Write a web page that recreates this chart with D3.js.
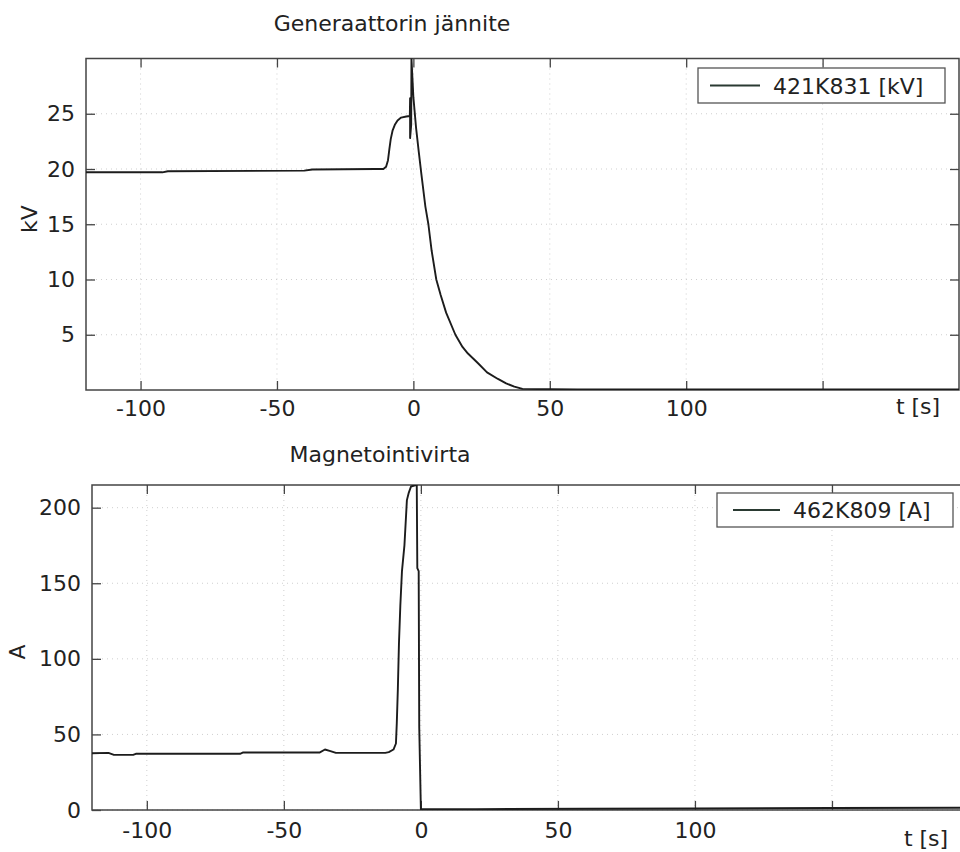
<!DOCTYPE html>
<html>
<head>
<meta charset="utf-8">
<script src="https://cdn.jsdelivr.net/npm/d3@7/dist/d3.min.js"></script>
<style>
  html, body { margin: 0; padding: 0; background: #fff; }
  svg { display: block; }
  text { font-family: "DejaVu Sans", "Liberation Sans", sans-serif; fill: #222; }
</style>
</head>
<body>
<svg id="chart" width="960" height="852"></svg>
<script>
// ---------------- data ----------------
const xTicks = [-100, -50, 0, 50, 100, 150];
const xTickLabels = ["-100", "-50", "0", "50", "100", ""];
const kvTicks = [5, 10, 15, 20, 25];
const ampTicks = [0, 50, 100, 150, 200];

const titleTop = "Generaattorin jännite";
const titleBottom = "Magnetointivirta";
const legendTop = "421K831 [kV]";
const legendBottom = "462K809 [A]";
const yLabelTop = "kV";
const yLabelBottom = "A";
const xLabel = "t [s]";

// generator voltage [kV]
const kvTime = [-120, -92, -90, -40, -37, -14, -11, -10, -9.3, -8.8, -8.3, -7.6, -6.8, -5.8, -4.5, -2.6, -1.3, -1.2, -1.2, -0.8, -0.7, 0, 1, 2, 2.9, 4.4, 5.5, 6.7, 8.4, 10, 12, 15.4, 18, 20, 23.8, 27, 31, 34, 37, 40, 60, 100, 150, 200];
const kvValues = [19.7, 19.7, 19.8, 19.85, 19.95, 20.0, 20.0, 20.2, 20.8, 21.8, 22.7, 23.5, 24.0, 24.4, 24.65, 24.75, 24.8, 26.4, 22.8, 24.0, 30.0, 26.5, 23.7, 21.5, 19.6, 16.6, 15.0, 12.6, 10.0, 8.6, 7.0, 5.0, 3.9, 3.3, 2.4, 1.6, 1.0, 0.6, 0.3, 0.1, 0.05, 0.05, 0.05, 0.05];

// field current [A]
const ampTime = [-120, -114, -112, -105, -104, -66, -65, -37, -35, -33, -31, -13, -11.7, -10, -9.1, -8.8, -8.4, -8.0, -7.5, -6.9, -6.0, -5.1, -4.4, -3.6, -1.8, -1.5, -1.3, -0.8, -0.6, 0, 20, 60, 100, 150, 200];
const ampValues = [37.5, 37.8, 36.5, 36.5, 37.2, 37.2, 38.0, 38.0, 40.0, 39.0, 37.8, 37.8, 38.3, 40.0, 44.0, 57.0, 80.0, 110.0, 135.0, 158.0, 175.0, 205.0, 210.0, 214.0, 215.0, 215.0, 160.0, 158.0, 55.0, 0.5, 0.6, 0.8, 1.0, 1.3, 1.5];

// ---------------- drawing ----------------
const svg = d3.select("#chart");

function panel(cfg) {
  const g = svg.append("g");
  const x = d3.scaleLinear().domain([-120, 200]).range([cfg.left, cfg.right]);
  const y = d3.scaleLinear().domain(cfg.yDomain).range([cfg.bottom, cfg.top]);
  const clipId = "clip" + cfg.id;
  svg.append("clipPath").attr("id", clipId)
    .append("rect")
    .attr("x", cfg.left).attr("y", cfg.top)
    .attr("width", cfg.right - cfg.left).attr("height", cfg.bottom - cfg.top);

  // grid
  g.append("g").selectAll("line").data(xTicks).join("line")
    .attr("x1", d => x(d)).attr("x2", d => x(d))
    .attr("y1", cfg.top).attr("y2", cfg.bottom)
    .attr("stroke", "#cfcfcf").attr("stroke-width", 1).attr("stroke-dasharray", "1,4");
  g.append("g").selectAll("line").data(cfg.yTicks).join("line")
    .attr("x1", cfg.left).attr("x2", cfg.right)
    .attr("y1", d => y(d)).attr("y2", d => y(d))
    .attr("stroke", "#cfcfcf").attr("stroke-width", 1).attr("stroke-dasharray", "1,4");

  // axes (inward ticks)
  const fmtX = (d, i) => xTickLabels[i];
  const ax = g.append("g").attr("transform", `translate(0,${cfg.bottom})`)
    .call(d3.axisBottom(x).tickValues(xTicks).tickFormat(fmtX).tickSizeInner(-9).tickSizeOuter(0).tickPadding(cfg.xPad));
  const at = g.append("g").attr("transform", `translate(0,${cfg.top})`)
    .call(d3.axisTop(x).tickValues(xTicks).tickFormat(() => "").tickSizeInner(-9).tickSizeOuter(0));
  const ay = g.append("g").attr("transform", `translate(${cfg.left},0)`)
    .call(d3.axisLeft(y).tickValues(cfg.yTicks).tickFormat(d3.format("d")).tickSizeInner(-9).tickSizeOuter(0).tickPadding(11));
  const ar = g.append("g").attr("transform", `translate(${cfg.right},0)`)
    .call(d3.axisRight(y).tickValues(cfg.yTicks).tickFormat(() => "").tickSizeInner(-9).tickSizeOuter(0));
  [ax, at, ay, ar].forEach(a => {
    a.select(".domain").remove();
    a.selectAll(".tick line").attr("stroke", "#444").attr("stroke-width", 1.3);
    a.selectAll(".tick text").attr("font-size", 22).attr("fill", "#222")
      .attr("font-family", '"DejaVu Sans", "Liberation Sans", sans-serif');
  });

  // frame
  g.append("rect")
    .attr("x", cfg.left).attr("y", cfg.top)
    .attr("width", cfg.right - cfg.left).attr("height", cfg.bottom - cfg.top)
    .attr("fill", "none").attr("stroke", "#444").attr("stroke-width", 1.5);

  // series
  const pts = cfg.t.map((t, i) => [t, cfg.v[i]]);
  const line = d3.line().x(d => x(d[0])).y(d => y(d[1]));
  g.append("path").datum(pts)
    .attr("clip-path", `url(#${clipId})`)
    .attr("d", line)
    .attr("fill", "none").attr("stroke", "#1c1c1c").attr("stroke-width", 1.9)
    .attr("stroke-linejoin", "round");

  // title
  g.append("text").attr("x", cfg.titleX).attr("y", cfg.titleY)
    .attr("text-anchor", "middle").attr("font-size", 22).text(cfg.title);
  // y label
  g.append("text")
    .attr("transform", `translate(${cfg.yLabX},${cfg.yLabY}) rotate(-90)`)
    .attr("text-anchor", "middle").attr("font-size", 22).text(cfg.yLabel);
  // x label
  g.append("text").attr("x", cfg.xLabX).attr("y", cfg.xLabY)
    .attr("text-anchor", "middle").attr("font-size", 22).text(xLabel);

  // legend
  const L = cfg.legend;
  g.append("rect").attr("x", L.x).attr("y", L.y).attr("width", L.w).attr("height", L.h)
    .attr("fill", "#fff").attr("stroke", "#555").attr("stroke-width", 1.3);
  g.append("line").attr("x1", L.x + L.l1).attr("x2", L.x + L.l2)
    .attr("y1", L.y + L.h / 2).attr("y2", L.y + L.h / 2)
    .attr("stroke", "#2a3a32").attr("stroke-width", 1.8);
  g.append("text").attr("x", L.x + L.tx).attr("y", L.y + L.h / 2 + 8)
    .attr("font-size", 22).text(cfg.legendText);
}

panel({
  id: "top", left: 86, right: 959, top: 58.5, bottom: 390,
  yDomain: [0, 30], yTicks: kvTicks, t: kvTime, v: kvValues, xPad: 10,
  title: titleTop, titleX: 392, titleY: 31,
  yLabel: yLabelTop, yLabX: 37, yLabY: 219,
  xLabX: 918, xLabY: 414,
  legend: { x: 698, y: 68, w: 247, h: 35, l1: 12, l2: 62, tx: 75 },
  legendText: legendTop
});

panel({
  id: "bottom", left: 92, right: 969, top: 485, bottom: 810,
  yDomain: [0, 215], yTicks: ampTicks, t: ampTime, v: ampValues, xPad: 12,
  title: titleBottom, titleX: 380, titleY: 462,
  yLabel: yLabelBottom, yLabX: 25, yLabY: 652,
  xLabX: 926, xLabY: 846,
  legend: { x: 717, y: 493, w: 236, h: 34, l1: 16, l2: 63, tx: 76 },
  legendText: legendBottom
});
</script>
</body>
</html>
